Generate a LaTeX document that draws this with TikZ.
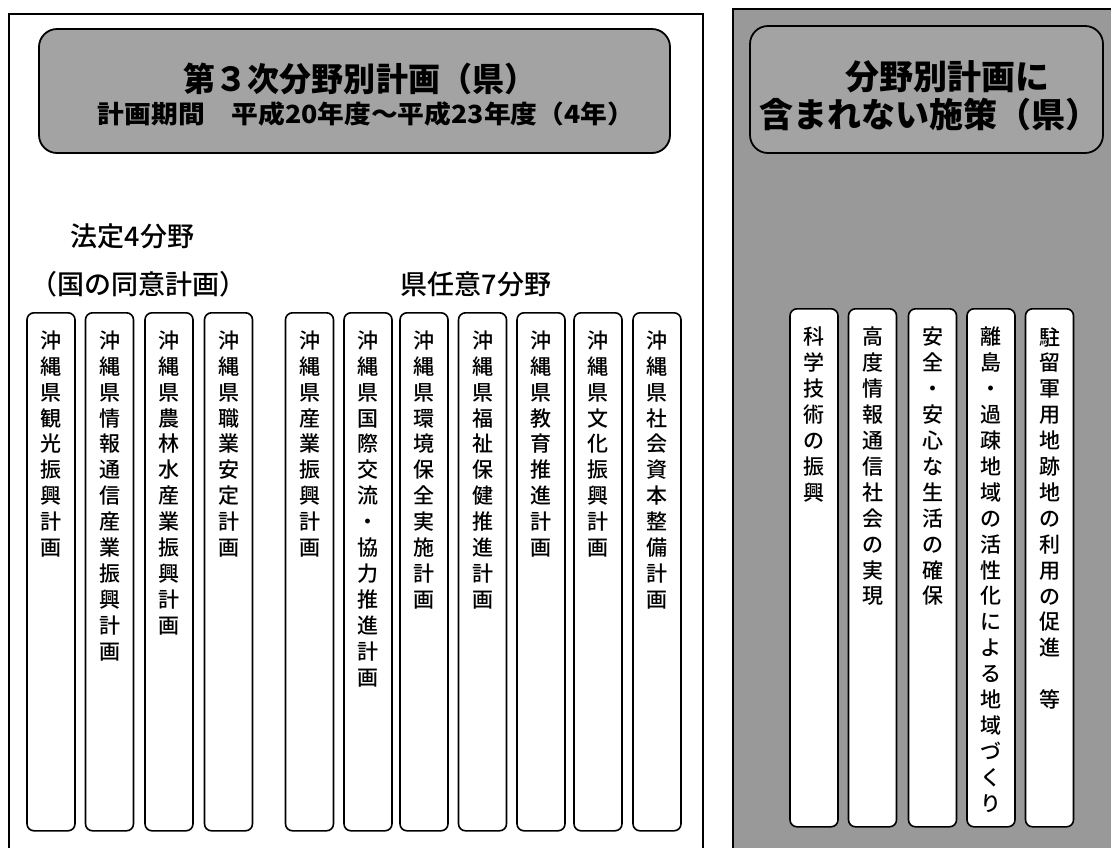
\documentclass[tikz,border=0pt]{standalone}
\usepackage{fontspec}
\usepackage{graphicx}
\newfontfamily\jp{Noto Sans CJK JP}
\newfontfamily\jpm{Noto Sans CJK JP}[UprightFont={* Medium}]
\definecolor{hdrgray}{gray}{0.64}
\definecolor{panelgray}{gray}{0.6}
\begin{document}
\begin{tikzpicture}[x=1pt,y=-1pt,
  frame/.style={line width=1.4pt},
  hdr/.style={draw, line width=1.8pt, rounded corners=18pt, fill=hdrgray, inner sep=0pt},
  col/.style={draw, line width=1.6pt, rounded corners=7pt, fill=white, minimum width=48pt, minimum height=518pt, anchor=north, inner sep=0pt},
  vtext/.style={anchor=north, align=center, inner sep=0pt, font=\jpm\fontsize{21}{25.9}\selectfont},
  lab/.style={font=\jpm\fontsize{27}{30}\selectfont, inner sep=0pt},
  ttl/.style={font=\jp\bfseries\fontsize{33}{36}\selectfont, inner sep=0pt},
  sub/.style={font=\jp\bfseries\fontsize{25}{28}\selectfont, inner sep=0pt},
  rttl/.style={font=\jp\bfseries\fontsize{34}{38}\selectfont, inner sep=0pt}
]
\useasboundingbox (0,0) rectangle (1111,847);
% right shaded panel
\fill[panelgray] (733,9) rectangle (1116,852);
\draw[frame] (733,852) -- (733,9) -- (1116,9);
% left frame
\draw[frame] (9,852) -- (9,14) -- (703,14) -- (703,852);

% headers
\node[hdr, minimum width=631pt, minimum height=124pt] (hL) at (354.5,91) {};
\node[ttl] (hLa) at (360,79) {\scalebox{0.97}[1]{第３次分野別計画（県）}};
\node[sub] (hLb) at (366,114) {\scalebox{1.07}[1]{計画期間　平成20年度～平成23年度（4年）}};

\node[hdr, minimum width=353pt, minimum height=127pt] (hR) at (926.5,89.5) {};
\node[rttl] (hRa) at (947,77) {分野別計画に};
\node[rttl] (hRb) at (929,115) {含まれない施策（県）};

% group labels
\node[lab] (g1) at (132.5,236) {法定4分野};
\node[lab] (g2) at (138.5,284) {（国の同意計画）};
\node[lab] (g3) at (476,284) {県任意7分野};

% left columns
\node[col] (c1) at (51,312) {};
\node[col] (c2) at (109.5,312) {};
\node[col] (c3) at (169,312) {};
\node[col] (c4) at (228.5,312) {};
\node[col] (c5) at (309.5,312) {};
\node[col] (c6) at (368,312) {};
\node[col] (c7) at (424,312) {};
\node[col] (c8) at (482.5,312) {};
\node[col] (c9) at (541,312) {};
\node[col] (c10) at (598,312) {};
\node[col] (c11) at (657,312) {};

\node[vtext] (t1) at ([yshift=-18.5pt]c1.north) {沖\\縄\\県\\観\\光\\振\\興\\計\\画};
\node[vtext] (t2) at ([yshift=-18.5pt]c2.north) {沖\\縄\\県\\情\\報\\通\\信\\産\\業\\振\\興\\計\\画};
\node[vtext] (t3) at ([yshift=-18.5pt]c3.north) {沖\\縄\\県\\農\\林\\水\\産\\業\\振\\興\\計\\画};
\node[vtext] (t4) at ([yshift=-18.5pt]c4.north) {沖\\縄\\県\\職\\業\\安\\定\\計\\画};
\node[vtext] (t5) at ([yshift=-18.5pt]c5.north) {沖\\縄\\県\\産\\業\\振\\興\\計\\画};
\node[vtext] (t6) at ([yshift=-18.5pt]c6.north) {沖\\縄\\県\\国\\際\\交\\流\\・\\協\\力\\推\\進\\計\\画};
\node[vtext] (t7) at ([yshift=-18.5pt]c7.north) {沖\\縄\\県\\環\\境\\保\\全\\実\\施\\計\\画};
\node[vtext] (t8) at ([yshift=-18.5pt]c8.north) {沖\\縄\\県\\福\\祉\\保\\健\\推\\進\\計\\画};
\node[vtext] (t9) at ([yshift=-18.5pt]c9.north) {沖\\縄\\県\\教\\育\\推\\進\\計\\画};
\node[vtext] (t10) at ([yshift=-18.5pt]c10.north) {沖\\縄\\県\\文\\化\\振\\興\\計\\画};
\node[vtext] (t11) at ([yshift=-18.5pt]c11.north) {沖\\縄\\県\\社\\会\\資\\本\\整\\備\\計\\画};

% right columns
\node[col] (r1) at (814,308) {};
\node[col] (r2) at (872.5,308) {};
\node[col] (r3) at (932.5,308) {};
\node[col] (r4) at (991,308) {};
\node[col] (r5) at (1049.5,308) {};

\node[vtext] (s1) at ([yshift=-19pt]r1.north) {科\\学\\技\\術\\の\\振\\興};
\node[vtext] (s2) at ([yshift=-19pt]r2.north) {高\\度\\情\\報\\通\\信\\社\\会\\の\\実\\現};
\node[vtext] (s3) at ([yshift=-19pt]r3.north) {安\\全\\・\\安\\心\\な\\生\\活\\の\\確\\保};
\node[vtext] (s4) at ([yshift=-19pt]r4.north) {離\\島\\・\\過\\疎\\地\\域\\の\\活\\性\\化\\に\\よ\\る\\地\\域\\づ\\く\\り};
\node[vtext] (s5) at ([yshift=-19pt]r5.north) {駐\\留\\軍\\用\\地\\跡\\地\\の\\利\\用\\の\\促\\進\\　\\等};
\end{tikzpicture}
\end{document}
